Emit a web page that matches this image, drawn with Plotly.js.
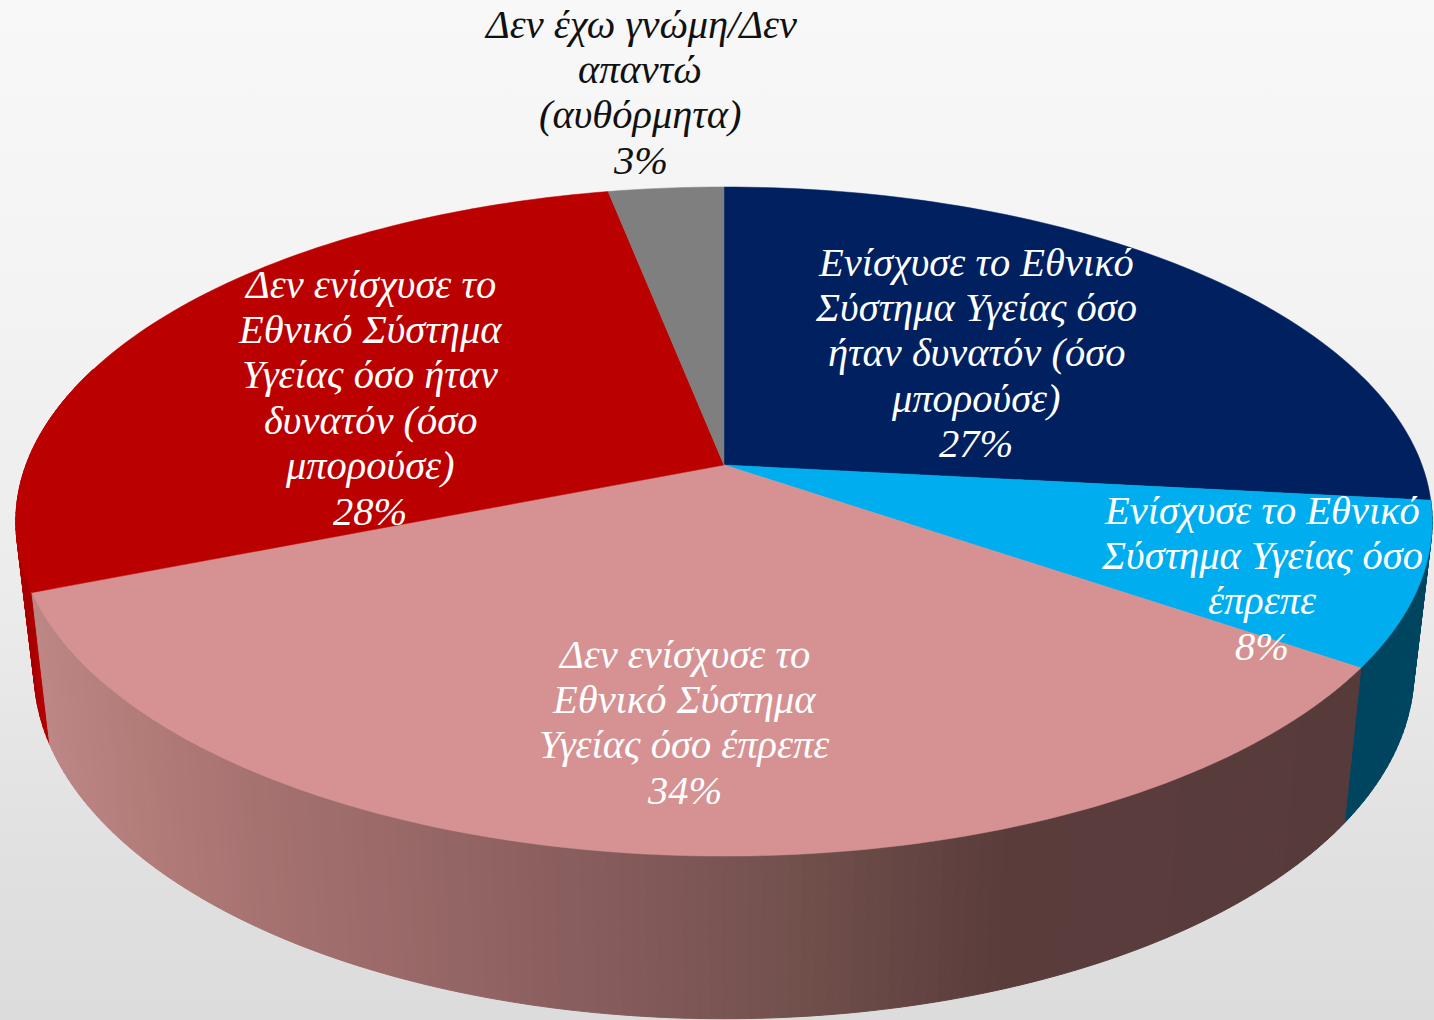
<!DOCTYPE html>
<html>
<head>
<meta charset="utf-8">
<script src="https://cdn.plot.ly/plotly-3.0.1.min.js"></script>
<style>
html,body{margin:0;padding:0;width:1434px;height:1020px;overflow:hidden;
background:linear-gradient(to bottom,#f8f8f8 0%,#f3f3f3 30%,#ebebeb 60%,#e0e0e0 85%,#dcdcdc 100%);}
#chart{width:1434px;height:1020px;}
</style>
</head>
<body>
<div id="chart"></div>
<script>
// Shares (geometric share of each slice, clockwise from 12 o'clock)
const categories = [
  "Ενίσχυσε το Εθνικό Σύστημα Υγείας όσο ήταν δυνατόν (όσο μπορούσε)",
  "Ενίσχυσε το Εθνικό Σύστημα Υγείας όσο έπρεπε",
  "Δεν ενίσχυσε το Εθνικό Σύστημα Υγείας όσο έπρεπε",
  "Δεν ενίσχυσε το Εθνικό Σύστημα Υγείας όσο ήταν δυνατόν (όσο μπορούσε)",
  "Δεν έχω γνώμη/Δεν απαντώ (αυθόρμητα)"
];
const shares = [26.7, 7.85, 34.45, 27.9, 3.1];
const percentLabels = ["27%", "8%", "34%", "28%", "3%"];
const labelLines = [
  ["Ενίσχυσε το Εθνικό", "Σύστημα Υγείας όσο", "ήταν δυνατόν (όσο", "μπορούσε)"],
  ["Ενίσχυσε το Εθνικό", "Σύστημα Υγείας όσο", "έπρεπε"],
  ["Δεν ενίσχυσε το", "Εθνικό Σύστημα", "Υγείας όσο έπρεπε"],
  ["Δεν ενίσχυσε το", "Εθνικό Σύστημα", "Υγείας όσο ήταν", "δυνατόν (όσο", "μπορούσε)"],
  ["Δεν έχω γνώμη/Δεν", "απαντώ", "(αυθόρμητα)"]
];

// Styles and layout
const topColors = ["#002060", "#00aeef", "#d69292", "#bb0000", "#7f7f7f"];
const wallStops = {
  1: [[1300, "#004560"], [1440, "#004560"]],
  2: [[40, "#bd8786"], [150, "#b17b78"], [300, "#a26f6e"], [600, "#875c5c"], [800, "#71504c"], [1000, "#5a3c3b"], [1350, "#573b3b"]],
  3: [[10, "#900000"], [25, "#a80000"], [50, "#c00000"]]
};
const labelAnchors = [[976, 262], [1262, 510], [684, 654], [370, 284], [640, 24]];
const labelColors = ["#ffffff", "#ffffff", "#ffffff", "#ffffff", "#111111"];
const LINE = 45.4, FONT = 40.5, FAMILY = "Liberation Serif";

// Perspective projection of the pie disc
const K = 0.169;
const topDisc = {cx: 724, cy: 465, a: 698, b: 325};
const botDisc = {cx: 724, cy: 612, a: 680, b: 338};
function proj(d, fr) {
  const t = fr / 100 * 2 * Math.PI, u = Math.sin(t), v = Math.cos(t), w = 1 + K * v;
  return [d.cx + d.a * u / w, d.cy - d.b * v / w];
}
function hex(c) { return [1, 3, 5].map(i => parseInt(c.substr(i, 2), 16)); }
function wallColor(stops, x) {
  if (x <= stops[0][0]) return stops[0][1];
  for (let i = 1; i < stops.length; i++) {
    if (x <= stops[i][0]) {
      const f = (x - stops[i-1][0]) / (stops[i][0] - stops[i-1][0]);
      const a = hex(stops[i-1][1]), b = hex(stops[i][1]);
      return "rgb(" + a.map((p, j) => Math.round(p + (b[j] - p) * f)).join(",") + ")";
    }
  }
  return stops[stops.length - 1][1];
}

const traces = [];
function poly(pts, color, name, seam) {
  traces.push({
    type: "scatter", mode: "lines", x: pts.map(p => p[0]), y: pts.map(p => p[1]),
    fill: "toself", fillcolor: color, hoverinfo: "text", text: name, showlegend: false,
    line: {color: color, width: seam ? 1 : 0.5, simplify: false}
  });
}

// cumulative slice edges
const edges = [0];
shares.forEach(s => edges.push(edges[edges.length - 1] + s));

// side walls of the visible slices
[3, 1, 2].forEach(i => {
  const start = edges[i];
  const end = i === 3 ? Math.min(edges[i + 1], 80) : edges[i + 1];
  const n = Math.max(6, Math.round((end - start) * 4));
  for (let k = 0; k < n; k++) {
    const f0 = start + (end - start) * k / n, f1 = start + (end - start) * (k + 1) / n;
    const a = proj(topDisc, f0), b = proj(topDisc, f1), c = proj(botDisc, f1), d = proj(botDisc, f0);
    poly([a, b, c, d, a], wallColor(wallStops[i], (a[0] + b[0] + c[0] + d[0]) / 4), categories[i], true);
  }
});

// top faces
shares.forEach((s, i) => {
  const pts = [[topDisc.cx, topDisc.cy]];
  const n = Math.max(8, Math.round(s * 3));
  for (let k = 0; k <= n; k++) pts.push(proj(topDisc, edges[i] + s * k / n));
  pts.push([topDisc.cx, topDisc.cy]);
  poly(pts, topColors[i], categories[i] + " " + percentLabels[i], false);
});

// data labels, one annotation per line for the tight line pitch
const annotations = [];
labelLines.forEach((lines, i) => {
  lines.concat([percentLabels[i]]).forEach((t, k) => {
    annotations.push({
      x: labelAnchors[i][0], y: labelAnchors[i][1] + k * LINE, xref: "x", yref: "y",
      text: t, showarrow: false, xanchor: "center", yanchor: "middle",
      font: {family: FAMILY, size: FONT, color: labelColors[i], style: "italic"}
    });
  });
});

Plotly.newPlot("chart", traces, {
  width: 1434, height: 1020,
  margin: {l: 0, r: 0, t: 0, b: 0},
  paper_bgcolor: "rgba(0,0,0,0)", plot_bgcolor: "rgba(0,0,0,0)",
  xaxis: {range: [0, 1434], visible: false, fixedrange: true},
  yaxis: {range: [1020, 0], visible: false, fixedrange: true},
  showlegend: false,
  annotations: annotations
}, {displayModeBar: false, staticPlot: true});
</script>
</body>
</html>
